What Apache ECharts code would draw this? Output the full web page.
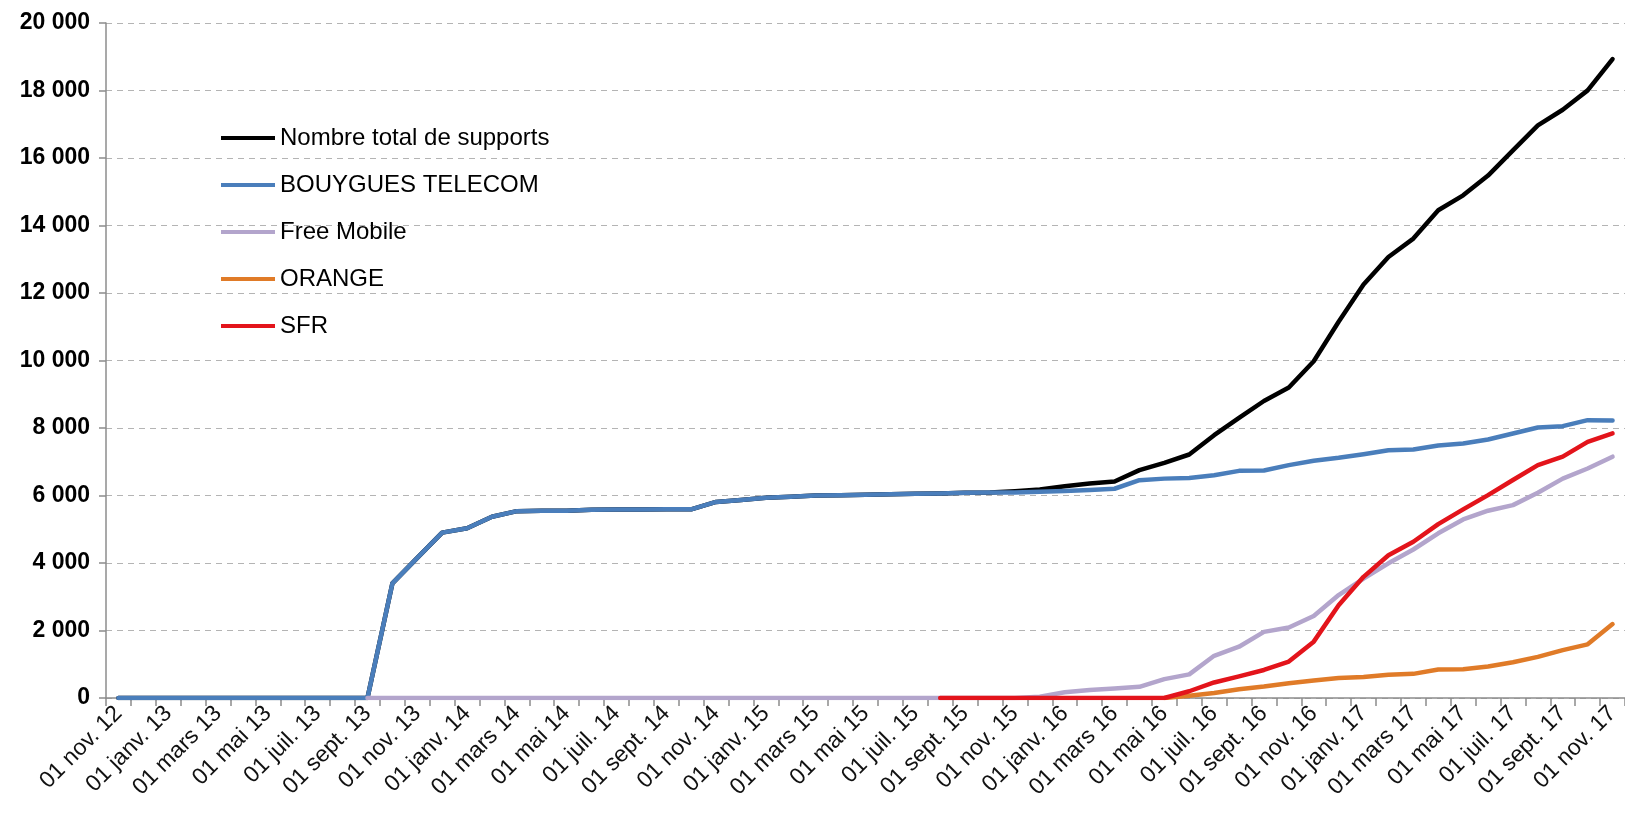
<!DOCTYPE html>
<html>
<head>
<meta charset="utf-8">
<script src="https://cdn.jsdelivr.net/npm/echarts@6/dist/echarts.min.js"></script>
<style>
html,body{margin:0;padding:0;background:#fff;}
#chart{width:1625px;height:818px;}
</style>
</head>
<body>
<div id="chart"></div>
<script>
var categories = [
 '01 nov. 12','01 déc. 12',
 '01 janv. 13','01 févr. 13','01 mars 13','01 avr. 13','01 mai 13','01 juin 13','01 juil. 13','01 août 13','01 sept. 13','01 oct. 13','01 nov. 13','01 déc. 13',
 '01 janv. 14','01 févr. 14','01 mars 14','01 avr. 14','01 mai 14','01 juin 14','01 juil. 14','01 août 14','01 sept. 14','01 oct. 14','01 nov. 14','01 déc. 14',
 '01 janv. 15','01 févr. 15','01 mars 15','01 avr. 15','01 mai 15','01 juin 15','01 juil. 15','01 août 15','01 sept. 15','01 oct. 15','01 nov. 15','01 déc. 15',
 '01 janv. 16','01 févr. 16','01 mars 16','01 avr. 16','01 mai 16','01 juin 16','01 juil. 16','01 août 16','01 sept. 16','01 oct. 16','01 nov. 16','01 déc. 16',
 '01 janv. 17','01 févr. 17','01 mars 17','01 avr. 17','01 mai 17','01 juin 17','01 juil. 17','01 août 17','01 sept. 17','01 oct. 17','01 nov. 17'
];

var seriesNames = ['Nombre total de supports','BOUYGUES TELECOM','Free Mobile','ORANGE','SFR'];

var totalSupports = [
 0,0,0,0,0,0,0,0,0,0,0,3395,4150,4900,
 5030,5370,5537,5547,5550,5580,5586,5586,5590,5590,5810,5870,
 5930,5960,6000,6010,6020,6040,6050,6060,6080,6090,6129,6180,
 6277,6356,6416,6751,6968,7215,7787,8300,8800,9200,9980,11150,
 12250,13068,13612,14451,14893,15480,16226,16966,17430,18003,18930
];

var bouygues = [
 0,0,0,0,0,0,0,0,0,0,0,3395,4150,4900,
 5030,5370,5537,5547,5550,5580,5586,5586,5590,5590,5810,5870,
 5930,5960,6000,6010,6020,6040,6050,6060,6080,6090,6090,6110,
 6130,6160,6200,6455,6500,6520,6600,6730,6740,6900,7027,7116,
 7225,7343,7363,7481,7541,7659,7837,8014,8054,8232,8222
];

var freeMobile = [
 null,null,null,null,null,null,null,null,null,null,0,0,0,0,
 0,0,0,0,0,0,0,0,0,0,0,0,
 0,0,0,0,0,0,0,0,0,0,0,40,
 170,240,280,330,560,700,1250,1520,1960,2090,2430,3050,
 3540,3990,4400,4880,5290,5550,5715,6080,6500,6800,7150
];

var orange = [
 null,null,null,null,null,null,null,null,null,null,null,null,null,null,
 null,null,null,null,null,null,null,null,null,null,null,null,
 null,null,null,null,null,null,null,null,null,null,null,null,
 null,null,null,null,0,70,150,260,340,440,520,590,
 620,690,715,845,855,935,1060,1220,1420,1590,2190
];

var sfr = [
 null,null,null,null,null,null,null,null,null,null,null,null,null,null,
 null,null,null,null,null,null,null,null,null,null,null,null,
 null,null,null,null,null,null,null,0,0,0,0,0,
 0,0,0,0,0,200,460,640,830,1080,1670,2750,
 3590,4230,4630,5150,5590,6010,6460,6900,7150,7590,7840
];

var seriesColors = ['#000000','#4A7EBB','#B3A5CC','#E07B28','#E3141B'];
var seriesData = [totalSupports, bouygues, freeMobile, orange, sfr];

var chart = echarts.init(document.getElementById('chart'), null, {renderer:'canvas'});

function fmt(v){
  var s = String(v);
  return s.replace(/\B(?=(\d{3})+(?!\d))/g, ' ');
}

var option = {
  animation: false,
  backgroundColor: '#ffffff',
  grid: {left: 106, top: 23, width: 1522, height: 675, containLabel: false},
  legend: {
    data: seriesNames,
    orient: 'vertical',
    left: 216,
    top: 120,
    icon: 'rect',
    itemWidth: 54,
    itemHeight: 4,
    itemGap: 21,
    textStyle: {fontFamily: 'Liberation Sans', fontSize: 24, color: '#000', lineHeight: 26, padding: [0,0,0,0]}
  },
  xAxis: {
    type: 'category',
    data: categories,
    boundaryGap: true,
    axisLine: {show: true, lineStyle: {color: '#8c8c8c', width: 1.5}},
    axisTick: {show: true, interval: 0, length: 8, lineStyle: {color: '#8c8c8c', width: 1.5}},
    axisLabel: {interval: 1, rotate: 45, margin: 12, fontFamily: 'Liberation Sans', fontSize: 23, color: '#111'},
    splitLine: {show: false}
  },
  yAxis: {
    type: 'value',
    min: 0,
    max: 20000,
    interval: 2000,
    axisLine: {show: true, lineStyle: {color: '#8c8c8c', width: 1.5}},
    axisTick: {show: true, length: 7, lineStyle: {color: '#8c8c8c', width: 1.5}},
    axisLabel: {formatter: fmt, margin: 16, fontFamily: 'Liberation Sans', fontWeight: 'bold', fontSize: 23, color: '#000'},
    splitLine: {show: true, lineStyle: {color: '#b4b4b4', width: 1.2, type: [6,5]}}
  },
  series: seriesNames.map(function(name, k){
    return {
      name: name,
      type: 'line',
      data: seriesData[k],
      showSymbol: false,
      symbol: 'none',
      smooth: false,
      connectNulls: false,
      itemStyle: {color: seriesColors[k]},
      lineStyle: {color: seriesColors[k], width: 4.5, join: 'round', cap: 'round'},
      emphasis: {disabled: true}
    };
  })
};
chart.setOption(option);
</script>
</body>
</html>
